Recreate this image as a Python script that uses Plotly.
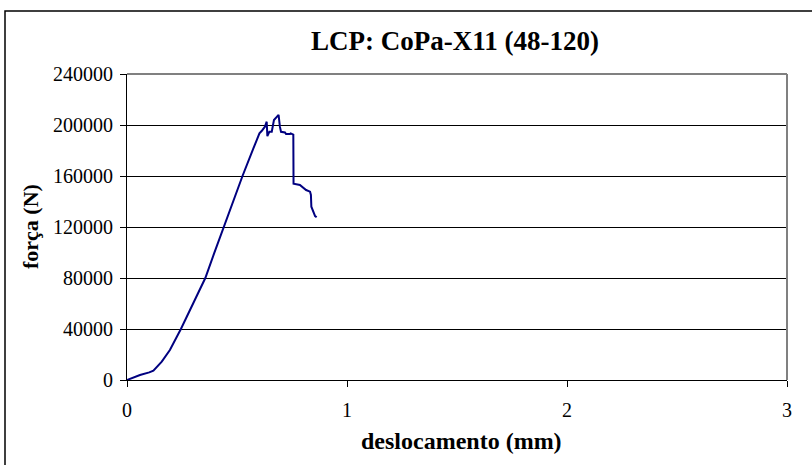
import plotly.graph_objects as go

# displacement (mm) and force (N)
deslocamento = [0.0, 0.029, 0.059, 0.101, 0.120, 0.158, 0.195, 0.245, 0.286, 0.332,
                0.356, 0.396, 0.439, 0.491, 0.525, 0.574, 0.602, 0.612, 0.627, 0.635,
                0.638, 0.647, 0.658, 0.668, 0.684, 0.689, 0.695, 0.700, 0.718, 0.723,
                0.741, 0.744, 0.756, 0.757, 0.786, 0.802, 0.814, 0.832, 0.836, 0.838,
                0.847, 0.855, 0.862]
forca = [0, 2100, 3900, 6000, 7300, 14400, 23500, 40000, 54600, 70800,
         80000, 99300, 120000, 143500, 160000, 181500, 193400, 195300, 198700, 202600,
         191300, 194700, 194700, 203900, 206500, 207900, 198700, 194700, 194200, 192900,
         192900, 193400, 192400, 154000, 152900, 150300, 149000, 147700, 145100, 135900,
         131200, 128600, 127600]

y_ticks = [0, 40000, 80000, 120000, 160000, 200000, 240000]
x_ticks = [0, 1, 2, 3]

FONT = "Liberation Serif, Times New Roman, serif"
W, H = 812, 465
L, R, T, B = 127, 25, 74, 85
PW, PH = W - L - R, H - T - B

fig = go.Figure()
fig.add_trace(go.Scatter(x=deslocamento, y=forca, mode="lines",
                         line=dict(color="#000080", width=2), showlegend=False))

fig.update_layout(
    width=W, height=H,
    margin=dict(l=L, r=R, t=T, b=B),
    paper_bgcolor="white", plot_bgcolor="white",
    font=dict(family=FONT, size=20, color="black"),
    title=dict(text="<b>LCP: CoPa-X11 (48-120)</b>", x=455 / W, xanchor="center",
               y=1 - 41 / H, yanchor="middle", yref="container",
               font=dict(family=FONT, size=27, color="black")),
    xaxis=dict(range=[0, 3], tickvals=x_ticks, ticks="outside", ticklen=6,
               tickcolor="black", showline=True, linecolor="black", linewidth=1,
               showgrid=False, zeroline=False, fixedrange=True, ticklabelstandoff=6,
               tickfont=dict(family=FONT, size=20)),
    yaxis=dict(range=[0, 240000], tickvals=y_ticks, ticktext=[str(v) for v in y_ticks],
               ticks="outside", ticklen=6, tickcolor="black", showline=True,
               linecolor="black", linewidth=1, showgrid=True, gridcolor="black",
               gridwidth=1, zeroline=False, fixedrange=True, ticklabelstandoff=3,
               tickfont=dict(family=FONT, size=20)),
    shapes=[
        dict(type="line", xref="paper", yref="paper", x0=0, x1=1, y0=1, y1=1,
             line=dict(color="#808080", width=2)),
        dict(type="line", xref="paper", yref="paper", x0=1, x1=1, y0=0, y1=1,
             line=dict(color="#808080", width=2)),
        dict(type="rect", xref="paper", yref="paper", x0=(5 - L) / PW, x1=1.2,
             y0=-0.5, y1=(H - B - 11) / PH, line=dict(color="black", width=1.5)),
    ],
    annotations=[
        dict(text="<b>deslocamento (mm)</b>", xref="paper", yref="paper",
             x=(461 - L) / PW, y=(H - B - 441) / PH, xanchor="center", yanchor="middle",
             showarrow=False, font=dict(family=FONT, size=24)),
        dict(text="<b>força (N)</b>", xref="paper", yref="paper",
             x=(30 - L) / PW, y=(H - B - 227) / PH, xanchor="center", yanchor="middle",
             textangle=-90, showarrow=False, font=dict(family=FONT, size=22)),
    ],
)

fig.write_html("out.html", config={"displayModeBar": False},
               post_script="document.body.style.margin='0';")
